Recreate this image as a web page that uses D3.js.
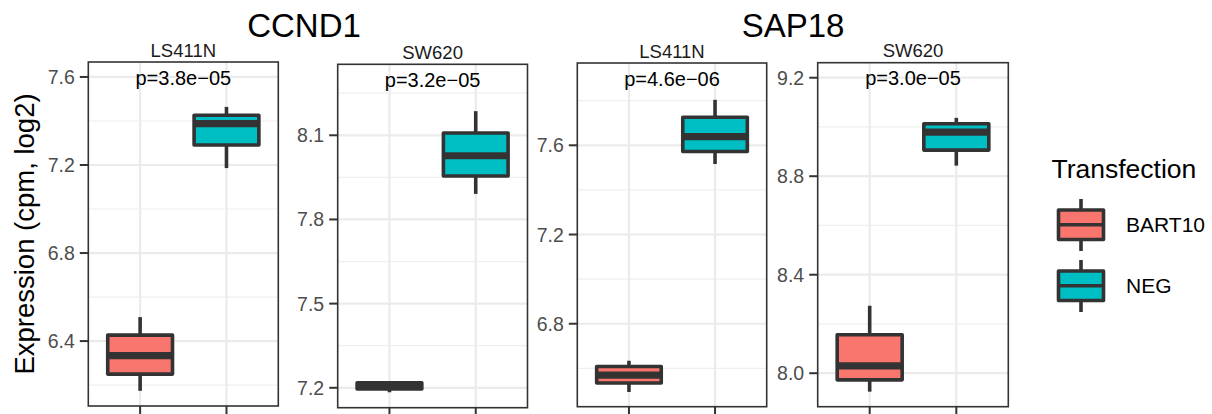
<!DOCTYPE html>
<html>
<head>
<meta charset="utf-8">
<script src="https://cdn.jsdelivr.net/npm/d3@7"></script>
<style>
  body { margin: 0; background: #fff; }
  svg { display: block; font-family: "Liberation Sans", Arial, sans-serif; }
</style>
</head>
<body>
<div id="myChart"></div>
<script>
// data
const genes = ["CCND1", "SAP18"];
const cellLines = ["LS411N", "SW620", "LS411N", "SW620"];
const groups = ["BART10", "NEG"];
const pLabels = ["p=3.8e\u221205", "p=3.2e\u221205", "p=4.6e\u221206", "p=3.0e\u221205"];

// [lower whisker, q1, median, q3, upper whisker] for each panel
const bart10Stats = [
    [6.174, 6.250, 6.334, 6.427, 6.509],
    [7.184, 7.196, 7.207, 7.218, 7.220],
    [6.494, 6.534, 6.570, 6.608, 6.634],
    [7.925, 7.973, 8.030, 8.156, 8.274]
];
const negStats = [
    [7.186, 7.291, 7.388, 7.426, 7.464],
    [7.891, 7.955, 8.027, 8.108, 8.186],
    [7.516, 7.572, 7.639, 7.726, 7.804],
    [8.843, 8.906, 8.979, 9.013, 9.037]
];

const yDomains = [[6.105, 7.668], [7.129, 8.353], [6.428, 7.969], [7.864, 9.261]];
const majorTicks = [[6.4, 6.8, 7.2, 7.6], [7.2, 7.5, 7.8, 8.1], [6.8, 7.2, 7.6], [8.0, 8.4, 8.8, 9.2]];
const minorTicks = [[6.2, 6.6, 7.0, 7.4], [7.35, 7.65, 7.95, 8.25], [6.6, 7.0, 7.4, 7.8], [8.2, 8.6, 9.0]];

const colors = { "BART10": "#F8766D", "NEG": "#00BFC4" };

// layout of the four panels (pixels)
const panels = [
    { left: 88.3, right: 278.3, top: 62, bottom: 406 },
    { left: 337.7, right: 527.5, top: 64.3, bottom: 407.7 },
    { left: 577.3, right: 766.7, top: 63, bottom: 406.7 },
    { left: 817.7, right: 1008.3, top: 62.7, bottom: 406.7 }
];
const titleX = [304, 793];

const ink = "#333333";
const fmt = d3.format(".1f");

let svg = d3.select('#myChart')
    .append('svg')
    .attr('width', 1212)
    .attr('height', 414);

// gene titles
svg.selectAll(".gene")
    .data(genes)
    .enter()
    .append("text")
    .attr("x", (d, i) => titleX[i])
    .attr("y", 36.5)
    .attr("text-anchor", "middle")
    .style("font-size", "33px")
    .style("fill", "#000")
    .text(d => d);

// y axis title
svg.append("text")
    .attr("transform", "translate(33.5,234) rotate(-90)")
    .attr("text-anchor", "middle")
    .style("font-size", "27.5px")
    .style("fill", "#000")
    .text("Expression (cpm, log2)");

panels.forEach(function (p, i) {
    let g = svg.append("g");

    let x = d3.scalePoint()
        .domain(groups)
        .range([p.left, p.right])
        .padding(0.6);
    let y = d3.scaleLinear()
        .domain(yDomains[i])
        .range([p.bottom, p.top]);
    let bw = x.step() * 0.75;

    // minor grid
    g.selectAll(".minor")
        .data(minorTicks[i])
        .enter()
        .append("line")
        .attr("x1", p.left).attr("x2", p.right)
        .attr("y1", d => y(d)).attr("y2", d => y(d))
        .style("stroke", "#EFEFEF")
        .style("stroke-width", 1.2);

    // major grid
    g.selectAll(".major")
        .data(majorTicks[i])
        .enter()
        .append("line")
        .attr("x1", p.left).attr("x2", p.right)
        .attr("y1", d => y(d)).attr("y2", d => y(d))
        .style("stroke", "#EBEBEB")
        .style("stroke-width", 2.2);
    g.selectAll(".vgrid")
        .data(groups)
        .enter()
        .append("line")
        .attr("x1", d => x(d)).attr("x2", d => x(d))
        .attr("y1", p.top).attr("y2", p.bottom)
        .style("stroke", "#EBEBEB")
        .style("stroke-width", 2.2);

    // boxes
    let stats = [bart10Stats[i], negStats[i]];
    let box = g.selectAll(".box")
        .data(groups.map((grp, k) => ({ grp: grp, s: stats[k] })))
        .enter()
        .append("g");

    box.append("line")
        .attr("x1", d => x(d.grp)).attr("x2", d => x(d.grp))
        .attr("y1", d => y(d.s[4])).attr("y2", d => y(d.s[3]))
        .style("stroke", ink).style("stroke-width", 3.6);
    box.append("line")
        .attr("x1", d => x(d.grp)).attr("x2", d => x(d.grp))
        .attr("y1", d => y(d.s[1])).attr("y2", d => y(d.s[0]))
        .style("stroke", ink).style("stroke-width", 3.6);
    box.append("rect")
        .attr("x", d => x(d.grp) - bw / 2)
        .attr("width", bw)
        .attr("y", d => y(d.s[3]))
        .attr("height", d => y(d.s[1]) - y(d.s[3]))
        .style("fill", d => colors[d.grp])
        .style("stroke", ink)
        .style("stroke-width", 3.6)
        .style("stroke-linejoin", "round");
    box.append("line")
        .attr("x1", d => x(d.grp) - bw / 2).attr("x2", d => x(d.grp) + bw / 2)
        .attr("y1", d => y(d.s[2])).attr("y2", d => y(d.s[2]))
        .style("stroke", ink).style("stroke-width", 7.2);

    // panel border
    g.append("rect")
        .attr("x", p.left).attr("y", p.top)
        .attr("width", p.right - p.left)
        .attr("height", p.bottom - p.top)
        .style("fill", "none")
        .style("stroke", ink)
        .style("stroke-width", 1.6);

    // left axis
    g.selectAll(".ytick")
        .data(majorTicks[i])
        .enter()
        .append("line")
        .attr("x1", p.left - 8.5).attr("x2", p.left)
        .attr("y1", d => y(d)).attr("y2", d => y(d))
        .style("stroke", ink).style("stroke-width", 2);
    g.selectAll(".ylab")
        .data(majorTicks[i])
        .enter()
        .append("text")
        .attr("x", p.left - 13.5)
        .attr("y", d => y(d))
        .attr("dy", "0.36em")
        .attr("text-anchor", "end")
        .style("font-size", "19.5px")
        .style("fill", "#4D4D4D")
        .text(d => fmt(d));

    // bottom ticks (labels are cut off by the picture edge)
    g.selectAll(".xtick")
        .data(groups)
        .enter()
        .append("line")
        .attr("x1", d => x(d)).attr("x2", d => x(d))
        .attr("y1", p.bottom).attr("y2", p.bottom + 8.5)
        .style("stroke", ink).style("stroke-width", 2);

    // strip label and p value
    g.append("text")
        .attr("x", (p.left + p.right) / 2)
        .attr("y", p.top - 5.5)
        .attr("text-anchor", "middle")
        .style("font-size", "18.5px")
        .style("fill", "#1A1A1A")
        .text(cellLines[i]);
    g.append("text")
        .attr("x", (p.left + p.right) / 2)
        .attr("y", p.top + 22.5)
        .attr("text-anchor", "middle")
        .style("font-size", "20px")
        .style("fill", "#000")
        .text(pLabels[i]);
});

// legend
let legend = svg.append("g");
legend.append("text")
    .attr("x", 1051.5)
    .attr("y", 178.3)
    .style("font-size", "26.5px")
    .style("fill", "#000")
    .text("Transfection");

let keyTop = [210, 271];
let key = legend.selectAll(".key")
    .data(groups)
    .enter()
    .append("g")
    .attr("transform", (d, i) => "translate(1081," + keyTop[i] + ")");
key.append("line")
    .attr("x1", 0).attr("x2", 0)
    .attr("y1", -11).attr("y2", 41)
    .style("stroke", ink).style("stroke-width", 3.6);
key.append("rect")
    .attr("x", -22.5).attr("y", 0)
    .attr("width", 45).attr("height", 29.5)
    .style("fill", d => colors[d])
    .style("stroke", ink)
    .style("stroke-width", 3.6)
    .style("stroke-linejoin", "round");
key.append("line")
    .attr("x1", -22.5).attr("x2", 22.5)
    .attr("y1", 14.75).attr("y2", 14.75)
    .style("stroke", ink).style("stroke-width", 3.6);
key.append("text")
    .attr("x", 45)
    .attr("y", 14.75)
    .attr("dy", "0.36em")
    .style("font-size", "21px")
    .style("fill", "#000")
    .text(d => d);
</script>
</body>
</html>
